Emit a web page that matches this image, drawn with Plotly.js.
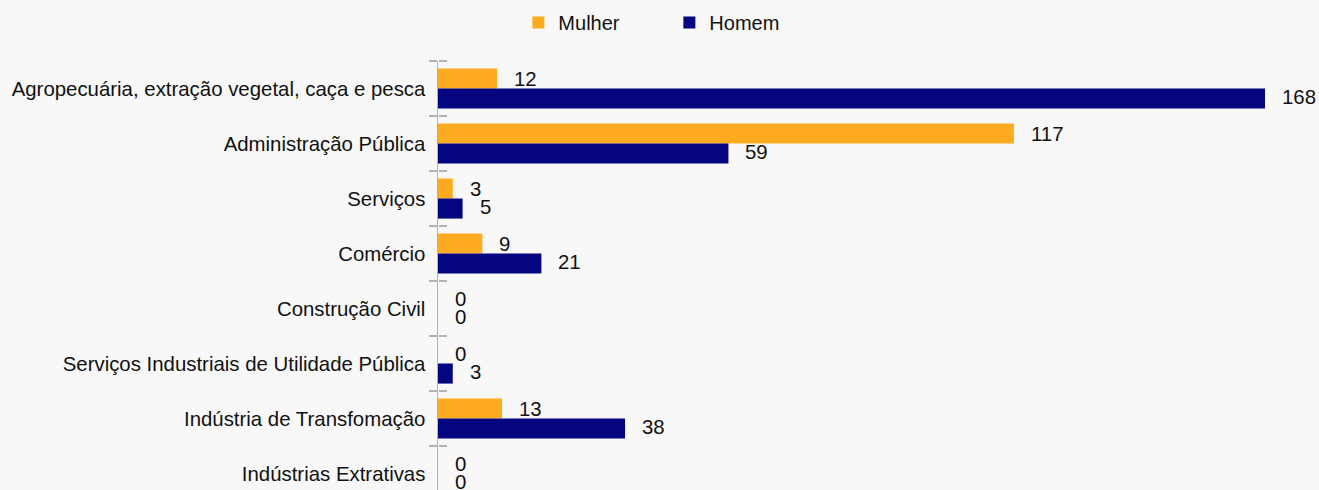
<!DOCTYPE html>
<html>
<head>
<meta charset="utf-8">
<script src="https://cdn.plot.ly/plotly-3.0.1.min.js"></script>
<style>html,body{margin:0;padding:0;background:#f8f8f8;}#chart{width:1319px;height:490px;}</style>
</head>
<body>
<div id="chart"></div>
<script>
var categories = [
  "Agropecuária, extração vegetal, caça e pesca",
  "Administração Pública",
  "Serviços",
  "Comércio",
  "Construção Civil",
  "Serviços Industriais de Utilidade Pública",
  "Indústria de Transfomação",
  "Indústrias Extrativas"
];
var mulher = [12, 117, 3, 9, 0, 0, 13, 0];
var homem = [168, 59, 5, 21, 0, 3, 38, 0];
var seriesNames = ["Mulher", "Homem"];
var colors = ["#ffab1f", "#050580"];

var traces = [
  {type: "bar", orientation: "h", name: seriesNames[0], y: categories, x: mulher,
   marker: {color: colors[0], line: {width: 0}}, hoverinfo: "x"},
  {type: "bar", orientation: "h", name: seriesNames[1], y: categories, x: homem,
   marker: {color: colors[1], line: {width: 0}}, hoverinfo: "x"},
  {type: "bar", orientation: "h", y: categories, x: categories.map(function(){return 0;}),
   yaxis: "y2", showlegend: false, hoverinfo: "skip", opacity: 0,
   marker: {color: "rgba(0,0,0,0)", line: {width: 0}}}
];

var annotations = [];
var font = {family: "Liberation Sans, Arial, sans-serif", size: 20.4, color: "#111"};
categories.forEach(function (c, i) {
  annotations.push({x: mulher[i], y: c, text: String(mulher[i]), showarrow: false,
    xanchor: "left", yanchor: "middle", xshift: 15, yshift: 10, font: font});
  annotations.push({x: homem[i], y: c, text: String(homem[i]), showarrow: false,
    xanchor: "left", yanchor: "middle", xshift: 15, yshift: -8.5, font: font});
});

var axisGray = "#b3b3b3";
var layout = {
  width: 1319, height: 490,
  paper_bgcolor: "#f8f8f8", plot_bgcolor: "#f8f8f8",
  margin: {l: 438, r: 54, t: 61, b: 0},
  barmode: "group", bargap: 0.27, bargroupgap: 0,
  font: font,
  showlegend: true,
  legend: {orientation: "h", xref: "container", yref: "container", x: 0.393, y: 0.994,
    xanchor: "left", yanchor: "top", font: {family: "Liberation Sans, Arial, sans-serif", size: 20, color: "#111"},
    entrywidth: 106, entrywidthmode: "pixels", bgcolor: "rgba(0,0,0,0)"},
  xaxis: {range: [0, 168], showgrid: false, zeroline: false, showticklabels: false,
    showline: false, ticks: ""},
  yaxis: {autorange: false, range: [7.3, -0.5], type: "category",
    showline: true, linecolor: axisGray, linewidth: 1.5,
    ticks: "outside", tickson: "boundaries", ticklen: 8, tickcolor: axisGray, tickwidth: 1.5,
    ticklabelstandoff: 7, showgrid: false, zeroline: false, tickfont: font},
  yaxis2: {overlaying: "y", anchor: "free", position: 0, side: "right", autorange: false, range: [7.3, -0.5],
    type: "category", showline: false, ticks: "outside", tickson: "boundaries", ticklen: 8,
    tickcolor: axisGray, tickwidth: 1.5, showticklabels: false, showgrid: false, zeroline: false},
  annotations: annotations
};

Plotly.newPlot("chart", traces, layout, {displayModeBar: false, staticPlot: true});
</script>
</body>
</html>
